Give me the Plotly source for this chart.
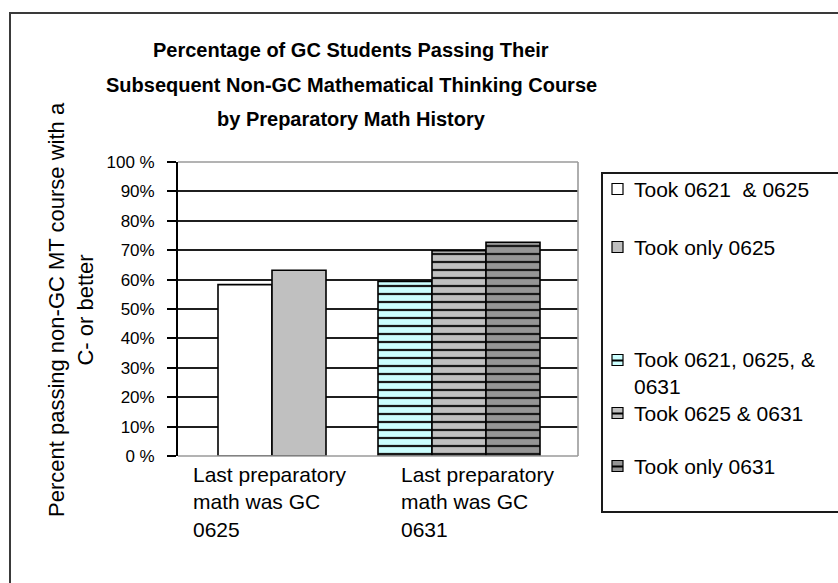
import plotly.graph_objects as go

# ---- data ----
categories = [
    "Last preparatory math was GC 0625",
    "Last preparatory math was GC 0631",
]
category_labels = [
    "Last preparatory<br>math was GC<br>0625",
    "Last preparatory<br>math was GC<br>0631",
]
series_names = [
    "Took 0621  & 0625",
    "Took only 0625",
    "Took 0621, 0625, &",
    "Took 0625 & 0631",
    "Took only 0631",
]
legend_texts = [
    "Took 0621  & 0625",
    "Took only 0625",
    "Took 0621, 0625, &<br>0631",
    "Took 0625 & 0631",
    "Took only 0631",
]
series_category = [0, 0, 1, 1, 1]
pass_rates = [0.583, 0.632, 0.594, 0.698, 0.727]

tick_values = [0, 0.1, 0.2, 0.3, 0.4, 0.5, 0.6, 0.7, 0.8, 0.9, 1.0]
tick_labels = ["0 %", "10%", "20%", "30%", "40%", "50%", "60%", "70%",
               "80%", "90%", "100 %"]

title_lines = [
    "Percentage of GC Students Passing Their",
    "Subsequent Non-GC Mathematical Thinking Course",
    "by Preparatory Math History",
]
y_title = "Percent passing non-GC MT course with a<br>C- or better"

# ---- styling ----
FONT = "Liberation Sans, Arial, sans-serif"
W, H = 838, 583
L, R, T, B = 178, 260, 162, 127
PW, PH = W - L - R, H - T - B

fills = ["#FFFFFF", "#C0C0C0", "#CCFFFF", "#C0C0C0", "#969696"]
striped = [False, False, True, True, True]
offsets = [-0.30, -0.03, -0.50, -0.23, 0.04]
bar_width = 0.27


def px_x(px):
    return (px - L) / PW


def px_y(py):
    return (H - B - py) / PH


fig = go.Figure()

for name, cat, val, fill, stripe, off in zip(series_names, series_category,
                                             pass_rates, fills, striped,
                                             offsets):
    marker = dict(color=fill, line=dict(color="#000000", width=1.6))
    if stripe:
        marker["pattern"] = dict(shape="-", size=8, solidity=0.28,
                                 fgcolor="#1a1a1a", bgcolor=fill,
                                 fillmode="replace")
    fig.add_trace(go.Bar(
        x=[categories[cat]], y=[val], name=name, marker=marker,
        offset=off, width=bar_width, showlegend=False,
    ))

shapes = []
annotations = []

# outer chart frame
shapes.append(dict(type="rect", xref="paper", yref="paper",
                   x0=px_x(10), x1=px_x(860), y0=px_y(620), y1=px_y(13),
                   line=dict(color="#3a3a3a", width=2), layer="below"))

# plot area border (top, right, bottom) in light gray
for x0, y0, x1, y1 in [(0, 1, 1, 1), (1, 0, 1, 1), (0, 0, 1, 0)]:
    shapes.append(dict(type="line", xref="paper", yref="paper",
                       x0=x0, y0=y0, x1=x1, y1=y1,
                       line=dict(color="#9a9a9a", width=1.6), layer="above"))

# title
for line, cy in zip(title_lines, [50, 85, 119]):
    annotations.append(dict(text="<b>%s</b>" % line, xref="paper",
                            yref="paper", x=px_x(351), y=px_y(cy),
                            xanchor="center", yanchor="middle",
                            showarrow=False,
                            font=dict(family=FONT, size=20, color="#000")))

# y-axis title
annotations.append(dict(text=y_title, textangle=-90, xref="paper",
                        yref="paper", x=px_x(71), y=px_y(310),
                        xanchor="center", yanchor="middle", showarrow=False,
                        font=dict(family=FONT, size=22, color="#000")))

# category labels
for lab, lx in zip(category_labels, [191, 399]):
    annotations.append(dict(text=lab, xref="paper", yref="paper",
                            x=px_x(lx), y=px_y(461), xanchor="left",
                            yanchor="top", align="left", showarrow=False,
                            font=dict(family=FONT, size=21, color="#000")))

# legend box
shapes.append(dict(type="rect", xref="paper", yref="paper",
                   x0=px_x(602), x1=px_x(860), y0=px_y(512), y1=px_y(173),
                   line=dict(color="#1a1a1a", width=2),
                   fillcolor="rgba(0,0,0,0)"))

swatch_y = [189, 247, 360, 413, 466]
text_y = [189, 247, 373, 413, 466]
for text, fill, stripe, sy, ty in zip(legend_texts, fills, striped,
                                      swatch_y, text_y):
    shapes.append(dict(type="rect", xref="paper", yref="paper",
                       x0=px_x(612), x1=px_x(623),
                       y0=px_y(sy + 5.5), y1=px_y(sy - 5.5),
                       fillcolor=fill, line=dict(color="#000", width=1.2)))
    if stripe:
        shapes.append(dict(type="line", xref="paper", yref="paper",
                           x0=px_x(612), x1=px_x(623),
                           y0=px_y(sy + 0.5), y1=px_y(sy + 0.5),
                           line=dict(color="#000", width=2)))
    annotations.append(dict(text=text, xref="paper", yref="paper",
                            x=px_x(632), y=px_y(ty), xanchor="left",
                            yanchor="middle", align="left", showarrow=False,
                            font=dict(family=FONT, size=21, color="#000")))

fig.update_layout(
    width=W, height=H,
    margin=dict(l=L, r=R, t=T, b=B, autoexpand=False),
    paper_bgcolor="#FFFFFF", plot_bgcolor="#FFFFFF",
    barmode="overlay",
    showlegend=False,
    shapes=shapes,
    annotations=annotations,
    xaxis=dict(type="category", categoryorder="array",
               categoryarray=categories, range=[-0.5, 1.5],
               showticklabels=False, ticks="", showgrid=False,
               showline=False, zeroline=False, fixedrange=True),
    yaxis=dict(range=[0, 1], tickvals=tick_values, ticktext=tick_labels,
               ticks="outside", ticklen=9, tickwidth=1.6,
               tickcolor="#000", showline=True, linecolor="#000",
               linewidth=1.8, showgrid=True, gridcolor="#1f1f1f",
               gridwidth=1.6, zeroline=False, ticklabelstandoff=9,
               tickfont=dict(family=FONT, size=17, color="#000"),
               fixedrange=True),
)

fig.write_html("out.html")
